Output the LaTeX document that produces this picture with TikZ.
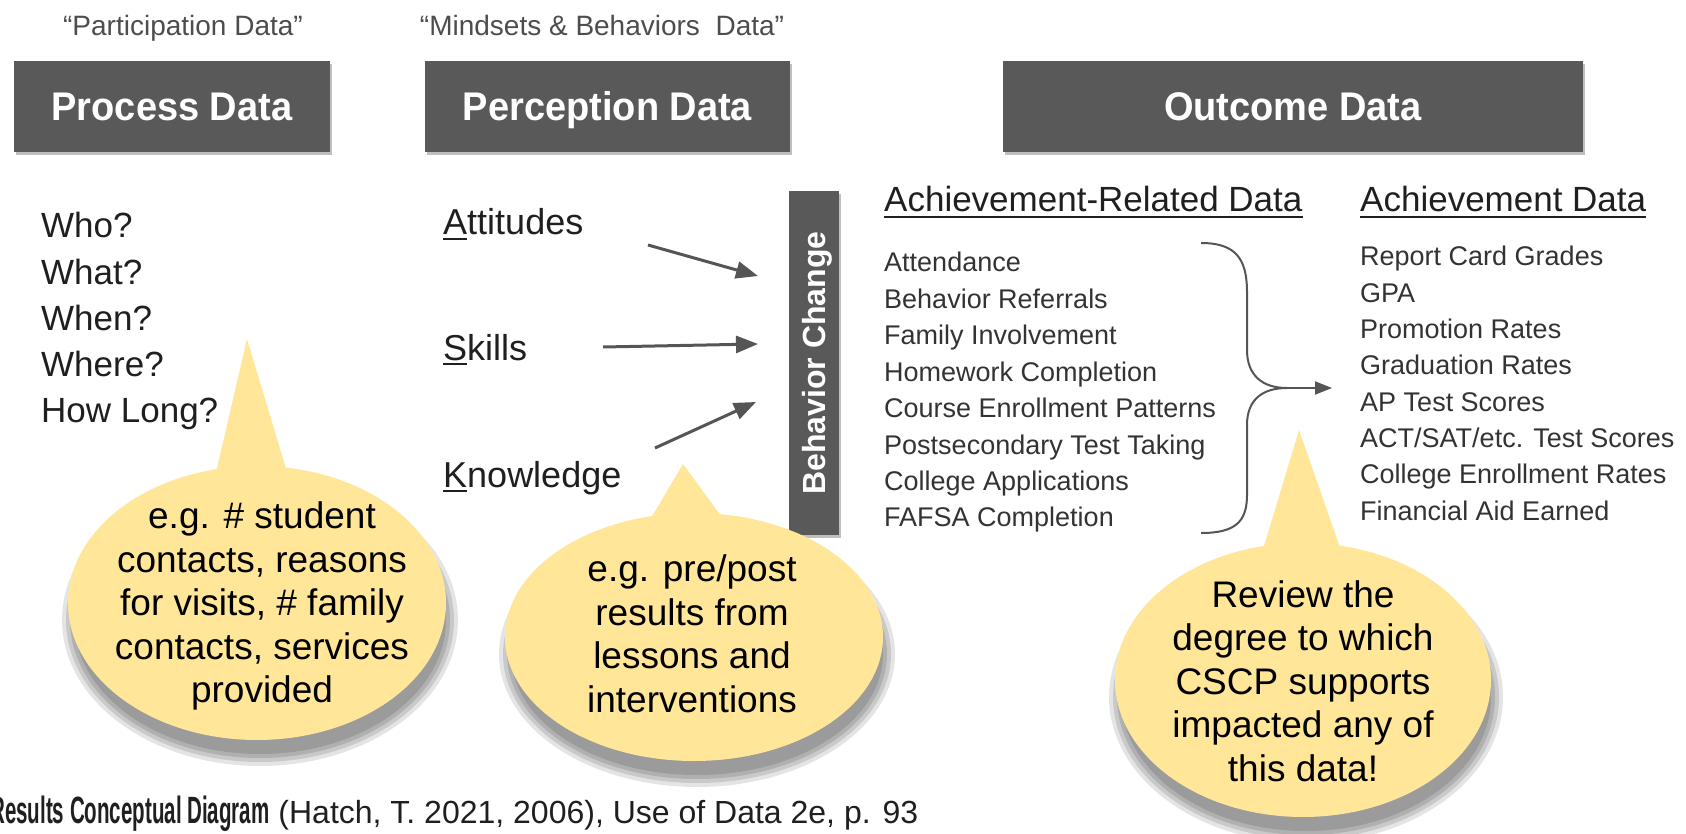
\documentclass[tikz,border=0pt]{standalone}
\usepackage{fontspec}
\setmainfont{Liberation Sans}
\newfontfamily\hdrfont[FakeStretch=0.95]{Liberation Sans}
\newfontfamily\capfont[FakeStretch=0.54]{Liberation Sans}
\usetikzlibrary{arrows.meta,shadows}
\definecolor{hdrgray}{HTML}{595959}
\definecolor{calloutfill}{HTML}{FFE699}
\definecolor{shadowgray}{HTML}{5A5A5A}
\definecolor{txtdark}{HTML}{1F1F1F}
\definecolor{txtlist}{HTML}{333333}
\definecolor{quotegray}{HTML}{4D4D4D}
\definecolor{arrowgray}{HTML}{555555}
\newcommand{\ulfirst}[1]{\setbox0\hbox{#1}\rlap{\rule[-5pt]{\wd0}{2.4pt}}\box0}
\newcommand{\calloutshadow}[4]{%
  \foreach \dd/\oo in {9/0.16,5/0.2,1/0.22,-3/0.25}{%
    \fill[shadowgray, opacity=\oo] ({#1+3},{#2+17}) ellipse [x radius={#3+\dd}, y radius={#4+\dd}];}}
\begin{document}
\begin{tikzpicture}[x=1pt,y=-1pt,
  hdrbox/.style={fill=hdrgray, text=white, font=\hdrfont\bfseries\fontsize{40}{48}\selectfont,
    inner sep=0pt, text height=29pt, text depth=0pt,
    drop shadow={shadow xshift=2pt, shadow yshift=-3pt, fill=black, opacity=0.25}},
  quotelbl/.style={font=\fontsize{28}{33}\selectfont, text=quotegray, inner sep=0pt, anchor=base},
  qitem/.style={font=\fontsize{35}{42}\selectfont, text=txtdark, inner sep=0pt, anchor=base west},
  ask/.style={font=\fontsize{36}{43}\selectfont, text=txtdark, inner sep=0pt, anchor=base west},
  colhead/.style={font=\fontsize{35}{42}\selectfont, text=txtdark, inner sep=0pt, anchor=base west},
  listitem/.style={font=\fontsize{27}{32}\selectfont, text=txtlist, inner sep=0pt, anchor=base west},
  flowarrow/.style={draw=arrowgray, line width=3pt, -{Triangle[length=22pt,width=17pt]}},
  bracearrow/.style={draw=arrowgray, line width=2pt, -{Triangle[length=17pt,width=13pt]}},
  bracestyle/.style={draw=arrowgray, line width=2pt},
  callouttext/.style={font=\fontsize{37}{43.5}\selectfont, text=black, align=center, inner sep=0pt},
  underl/.style={draw=txtdark, line width=2.2pt}
]
\useasboundingbox (0,0) rectangle (1686,834);

% quote labels
\node[quotelbl] (qpart) at (183,36) {“Participation Data”};
\node[quotelbl] (qmind) at (602,36) {“Mindsets \& Behaviors\ \ Data”};

% header boxes
\node[hdrbox, minimum width=316pt, minimum height=91pt] (proc) at (172,106.5) {Process Data};
\node[hdrbox, minimum width=365pt, minimum height=91pt] (perc) at (607.5,106.5) {Perception Data};
\node[hdrbox, minimum width=580pt, minimum height=91pt] (outc) at (1293,106.5) {Outcome Data};

% questions
\foreach \t [count=\i] in {Who?,What?,When?,Where?,How Long?}
  \node[qitem] (q\i) at (41,{238+46.2*(\i-1)}) {\t};

% attitudes / skills / knowledge
\node[ask] (att) at (443,235) {\ulfirst{A}ttitudes};
\node[ask] (skl) at (443,360) {\ulfirst{S}kills};
\node[ask] (knw) at (443,487) {\ulfirst{K}nowledge};

\coordinate (a1s) at (648,245); \coordinate (a1e) at (758,276);
\coordinate (a2s) at (603,347); \coordinate (a2e) at (758,344);
\coordinate (a3s) at (655,448); \coordinate (a3e) at (756,402);
\draw[flowarrow] (a1s) -- (a1e);
\draw[flowarrow] (a2s) -- (a2e);
\draw[flowarrow] (a3s) -- (a3e);

% behavior change bar
\node[fill=hdrgray, text=white, rotate=90, minimum width=344pt, minimum height=50pt,
  inner sep=0pt, text height=23pt, text depth=0pt,
  font=\bfseries\fontsize{32}{38}\selectfont,
  drop shadow={shadow xshift=2pt, shadow yshift=-3pt, fill=black, opacity=0.25}] (bar) at (814,363) {Behavior Change};

% column headers
\node[colhead] (arh) at (884,212) {Achievement-Related Data};
\draw[underl] ([yshift=-5pt]arh.base west) -- ([yshift=-5pt]arh.base east);
\node[colhead] (ach) at (1360,212) {Achievement Data};
\draw[underl] ([yshift=-5pt]ach.base west) -- ([yshift=-5pt]ach.base east);

% lists
\foreach \t [count=\i] in {Attendance,Behavior Referrals,Family Involvement,Homework Completion,Course Enrollment Patterns,Postsecondary Test Taking,College Applications,FAFSA Completion}
  \node[listitem] (ar\i) at (884,{272+36.4*(\i-1)}) {\t};
\foreach \t [count=\i] in {Report Card Grades,GPA,Promotion Rates,Graduation Rates,AP Test Scores,ACT/SAT/etc. Test Scores,College Enrollment Rates,Financial Aid Earned}
  \node[listitem] (ad\i) at (1360,{266+36.3*(\i-1)}) {\t};

% brace and arrow
\coordinate (brtop) at (1201,243);
\coordinate (brtip) at (1287,388);
\coordinate (brbot) at (1201,533);
\coordinate (brend) at (1332,388);
\draw[bracestyle] (brtop) .. controls (1235,243) and (1247,258) .. (1247,292) -- (1247,350)
  .. controls (1247,375) and (1262,388) .. (brtip)
  .. controls (1262,388) and (1247,400) .. (1247,425) -- (1247,495)
  .. controls (1247,522) and (1235,533) .. (brbot);
\draw[bracearrow] (brtip) -- (brend);

% callouts: shadows
\calloutshadow{257}{603}{189}{137}
\calloutshadow{694}{637}{189}{124}
\calloutshadow{1303}{680}{188}{137}

% callouts: bodies
\coordinate (t1) at (247,339);
\coordinate (t2) at (683,464);
\coordinate (t3) at (1299,430);
\fill[calloutfill] (257,603) ellipse [x radius=189, y radius=137];
\fill[calloutfill] (t1) -- (213,485) -- (291,485) -- cycle;
\fill[calloutfill] (694,637) ellipse [x radius=189, y radius=124];
\fill[calloutfill] (t2) -- (641,535) -- (735,535) -- cycle;
\fill[calloutfill] (1303,680) ellipse [x radius=188, y radius=137];
\fill[calloutfill] (t3) -- (1261,556) -- (1343,556) -- cycle;

\node[callouttext] (c1) at (262,606) {e.g. \# student\\contacts, reasons\\for visits, \# family\\contacts, services\\provided};
\node[callouttext] (c2) at (692,634) {e.g. pre/post\\results from\\lessons and\\interventions};
\node[callouttext] (c3) at (1303,681) {Review the\\degree to which\\CSCP supports\\impacted any of\\this data!};

% caption
\node[anchor=base west, inner sep=0pt, text=txtdark, font=\fontsize{32}{38}\selectfont] (cap) at (-10,823)
  {{\capfont\bfseries\fontsize{38}{44}\selectfont Results Conceptual Diagram} (Hatch, T. 2021, 2006), Use of Data 2e, p. 93};
\end{tikzpicture}
\end{document}
